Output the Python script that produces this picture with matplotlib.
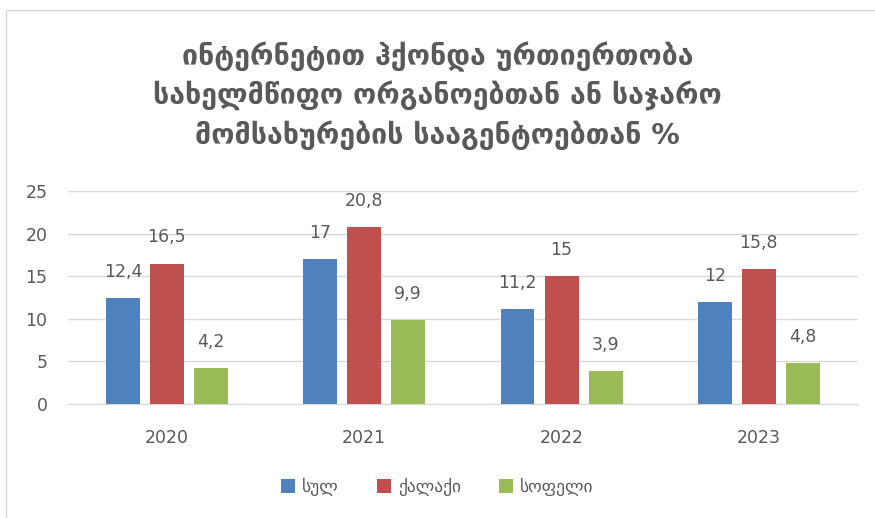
import matplotlib.pyplot as plt
import numpy as np
from matplotlib.patches import Rectangle

years = ["2020", "2021", "2022", "2023"]
total = [12.4, 17, 11.2, 12]
city = [16.5, 20.8, 15, 15.8]
village = [4.2, 9.9, 3.9, 4.8]
series_names = ["სულ", "ქალაქი", "სოფელი"]
colors = ["#4F81BD", "#C0504D", "#9BBB59"]

plt.rcParams['font.family'] = ['DejaVu Sans']
gray = "#595959"

fig = plt.figure(figsize=(8.75, 5.18), dpi=100)
fig.patches.append(Rectangle((0.007, -0.01), 0.995, 0.99, transform=fig.transFigure,
                             fill=False, edgecolor="#D9D9D9", linewidth=1))
ax = fig.add_axes([0.078, 0.22, 0.902, 0.411])

x = np.arange(len(years))
w = 0.172
off = 0.223
for i, (vals, name, c) in enumerate(zip([total, city, village], series_names, colors)):
    pos = x + (i - 1) * off
    ax.bar(pos, vals, width=w, color=c, label=name, zorder=3)
    for p, v in zip(pos, vals):
        ax.text(p, v + 2.0, f"{v:g}".replace(".", ","), ha="center", va="bottom",
                fontsize=12.5, color=gray)

ax.set_xlim(-0.5, 3.5)
ax.set_ylim(0, 25)
ax.set_yticks(range(0, 26, 5))
ax.set_xticks(x)
ax.set_xticklabels(years)
ax.grid(axis="y", color="#D9D9D9", linewidth=1, zorder=0)
for s in ax.spines.values():
    s.set_visible(False)
ax.spines["bottom"].set_visible(True)
ax.spines["bottom"].set_color("#D9D9D9")
ax.tick_params(length=0, labelsize=12.5, colors=gray)
ax.tick_params(axis="x", pad=18)
ax.tick_params(axis="y", pad=15)

fig.text(0.5, 0.815, "ინტერნეტით ჰქონდა ურთიერთობა\nსახელმწიფო ორგანოებთან ან საჯარო\nმომსახურების სააგენტოებთან %",
         ha="center", va="center", fontsize=20.5, fontweight="bold", color=gray, linespacing=1.38)

fig.legend(loc="center", bbox_to_anchor=(0.5, 0.06), ncol=3, frameon=False,
           fontsize=12.5, labelcolor=gray, handlelength=0.8, handleheight=0.8,
           handletextpad=0.4, columnspacing=2.2)

plt.savefig("out.png", dpi=100)
